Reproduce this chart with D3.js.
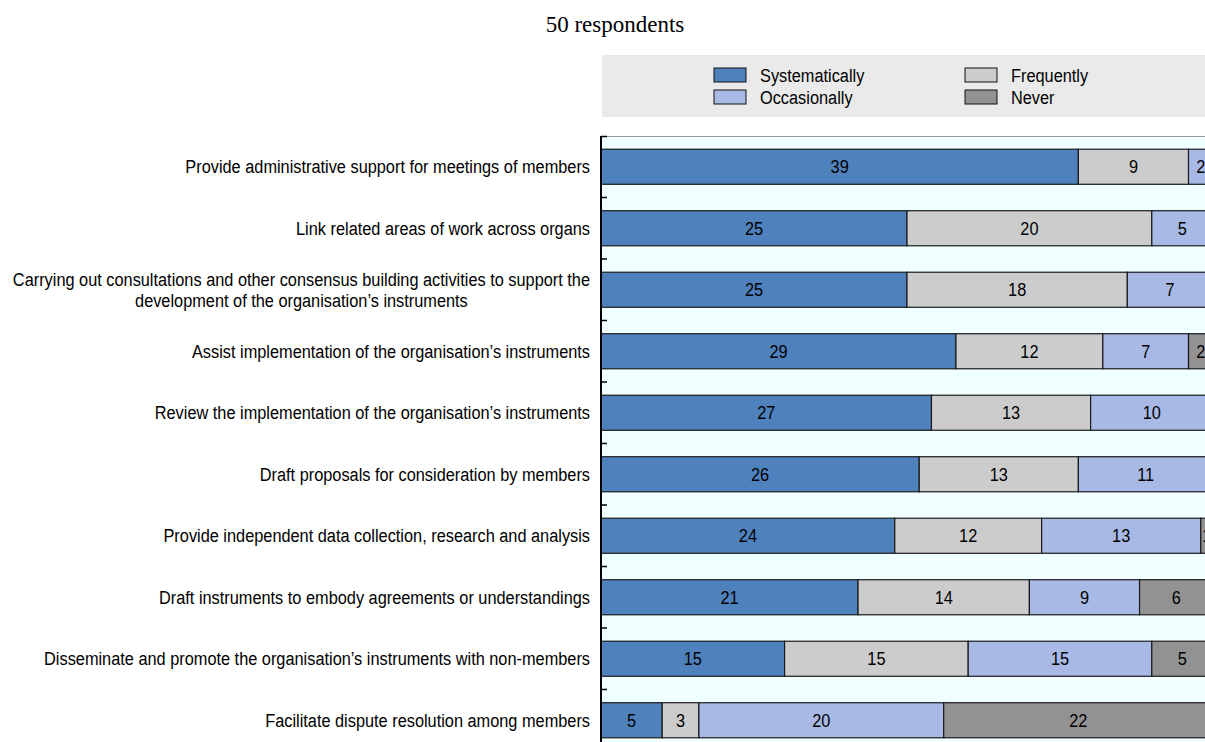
<!DOCTYPE html>
<html>
<head>
<meta charset="utf-8">
<script src="https://cdn.jsdelivr.net/npm/d3@7"></script>
<style>
  html, body { margin: 0; padding: 0; background: #fff; overflow: hidden; }
  svg { display: block; }
  text { font-family: "Liberation Sans", Arial, Helvetica, sans-serif; }
</style>
</head>
<body>
<svg id="chart" width="1205" height="742"></svg>
<script>
// Survey responses per secretariat function (50 respondents)
const categories = [
  "Provide administrative support for meetings of members",
  "Link related areas of work across organs",
  "Carrying out consultations and other consensus building activities to support the development of the organisation\u2019s instruments",
  "Assist implementation of the organisation\u2019s instruments",
  "Review the implementation of the organisation\u2019s instruments",
  "Draft proposals for consideration by members",
  "Provide independent data collection, research and analysis",
  "Draft instruments to embody agreements or understandings",
  "Disseminate and promote the organisation\u2019s instruments with non-members",
  "Facilitate dispute resolution among members"
];
const systematically = [39, 25, 25, 29, 27, 26, 24, 21, 15, 5];
const frequently     = [9, 20, 18, 12, 13, 13, 12, 14, 15, 3];
const occasionally   = [2, 5, 7, 7, 10, 11, 13, 9, 15, 20];
const never          = [0, 0, 0, 2, 0, 0, 1, 6, 5, 22];

const seriesKeys   = ["Systematically", "Frequently", "Occasionally", "Never"];
const seriesValues = [systematically, frequently, occasionally, never];
const seriesColors = ["#4f81bd", "#cccccc", "#a7b9e4", "#929292"];
const totalRespondents = 50;

const svg = d3.select("#chart");
const W = 1205, H = 742;

// Narrow sans text: a regular face squeezed horizontally
const FONT_SIZE = 19, SQUEEZE = 0.86;
function narrowText(parent, px, py, anchor) {
  return parent.append("g")
    .attr("transform", `translate(${px},${py})`)
    .append("text")
    .attr("transform", `scale(${SQUEEZE},1)`)
    .attr("text-anchor", anchor)
    .attr("dy", "0.35em")
    .attr("fill", "#000")
    .style("font-size", FONT_SIZE + "px");
}

// Plot frame; the scale runs a little past the right edge of the page
const plot = { left: 601, top: 136, right: 1213, bottom: 751 };

const x = d3.scaleLinear().domain([0, totalRespondents]).range([plot.left, plot.right]);
const y = d3.scaleBand().domain(categories).range([plot.top, plot.bottom])
  .paddingInner(0.43).paddingOuter(0.215);

// Title
svg.append("text")
  .attr("x", 615).attr("y", 32)
  .attr("text-anchor", "middle")
  .style("font-family", "'Liberation Serif', 'Times New Roman', serif")
  .style("font-size", "23px")
  .attr("fill", "#000")
  .text(`${totalRespondents} respondents`);

// Legend
const legend = svg.append("g");
legend.append("rect")
  .attr("x", 602).attr("y", 55).attr("width", W - 602).attr("height", 62)
  .attr("fill", "#eaeaea");
const legendPos = [
  { x: 714, y: 75 }, { x: 965, y: 75 },
  { x: 714, y: 97 }, { x: 965, y: 97 }
];
seriesKeys.forEach((k, i) => {
  const p = legendPos[i];
  legend.append("rect")
    .attr("x", p.x).attr("y", p.y - 7).attr("width", 32).attr("height", 14)
    .attr("fill", seriesColors[i]).attr("stroke", "#111").attr("stroke-width", 1);
  narrowText(legend, p.x + 46, p.y, "start").text(k);
});

// Plot background
svg.append("rect")
  .attr("x", plot.left).attr("y", plot.top)
  .attr("width", W - plot.left).attr("height", H - plot.top)
  .attr("fill", "#f0ffff");
svg.append("line")
  .attr("x1", plot.left).attr("x2", W).attr("y1", plot.top + 0.5).attr("y2", plot.top + 0.5)
  .attr("stroke", "#9a9a9a").attr("stroke-width", 1);

// Stacked bars
const rows = categories.map((c, i) => {
  const r = { category: c };
  seriesKeys.forEach((k, j) => { r[k] = seriesValues[j][i]; });
  return r;
});
const stacked = d3.stack().keys(seriesKeys)(rows);

const layers = svg.append("g").selectAll("g")
  .data(stacked).join("g")
  .attr("fill", (d, i) => seriesColors[i]);

layers.selectAll("rect")
  .data(d => d.filter(s => s[1] - s[0] > 0))
  .join("rect")
  .attr("x", d => x(d[0]))
  .attr("y", d => y(d.data.category))
  .attr("width", d => x(d[1]) - x(d[0]))
  .attr("height", y.bandwidth())
  .attr("stroke", "#1a1a1a").attr("stroke-width", 1.2);

const valueLabels = svg.append("g");
stacked.forEach(layer => {
  layer.filter(s => s[1] - s[0] > 0).forEach(s => {
    narrowText(valueLabels,
      (x(s[0]) + x(s[1])) / 2,
      y(s.data.category) + y.bandwidth() / 2,
      "middle").text(s[1] - s[0]);
  });
});

// Left axis with ticks at band boundaries
const axis = svg.append("g");
axis.append("line")
  .attr("x1", plot.left).attr("x2", plot.left)
  .attr("y1", plot.top).attr("y2", H)
  .attr("stroke", "#000").attr("stroke-width", 2);
const boundaries = categories.map(c => y(c) - y.step() * y.paddingInner() / 2);
boundaries[0] = plot.top + 0.5;
axis.selectAll("line.tick")
  .data(boundaries).join("line")
  .attr("class", "tick")
  .attr("x1", plot.left).attr("x2", plot.left + 6)
  .attr("y1", d => d).attr("y2", d => d)
  .attr("stroke", "#000").attr("stroke-width", 1.5);

// Category labels: wrapped to the space left of the axis; a wrapped
// block sits flush right with its lines centred on each other
const labelRight = 590, labelMax = 585, lineH = 21;
const labelLayer = svg.append("g");
const measure = narrowText(labelLayer, 0, 0, "start").style("visibility", "hidden");
const widthOf = s => { measure.text(s); return measure.node().getComputedTextLength() * SQUEEZE; };
categories.forEach(c => {
  const cy = y(c) + y.bandwidth() / 2;
  const words = c.split(" ");
  const lines = [];
  let cur = [];
  words.forEach(w => {
    const test = cur.concat(w).join(" ");
    if (widthOf(test) > labelMax && cur.length) {
      lines.push(cur.join(" "));
      cur = [w];
    } else {
      cur.push(w);
    }
  });
  lines.push(cur.join(" "));
  const blockW = d3.max(lines, widthOf);
  const multi = lines.length > 1;
  const t = narrowText(labelLayer, multi ? labelRight - blockW / 2 : labelRight, cy,
    multi ? "middle" : "end").attr("dy", null);
  lines.forEach((ln, i) => {
    t.append("tspan")
      .attr("x", 0)
      .attr("y", (i - (lines.length - 1) / 2) * lineH)
      .attr("dy", "0.35em")
      .text(ln);
  });
});
measure.node().parentNode.remove();
</script>
</body>
</html>
